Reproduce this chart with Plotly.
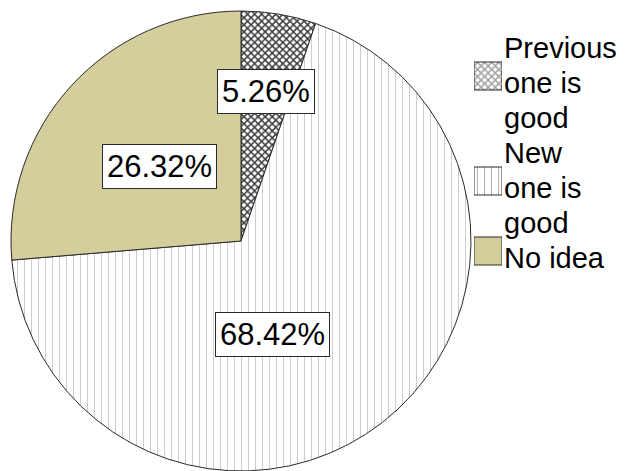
import math
import plotly.graph_objects as go

# ---------------- data ----------------
categories = ["Previous one is good", "New one is good", "No idea"]
legend_lines = [["Previous", "one is", "good"], ["New", "one is", "good"], ["No idea"]]
percentages = [5.26, 68.42, 26.32]
label_texts = ["5.26%", "68.42%", "26.32%"]

# ---------------- style ----------------
W, H = 628, 471
FONT = "Liberation Sans, Arial, sans-serif"
fill_colors = ["#ffffff", "#ffffff", "#d3ce9b"]
pattern_shapes = ["x", "|", ""]
pattern_fg = ["#3c3c3c", "#c4c4c4", "#d3ce9b"]
pattern_size = [5, 7, 6]
pattern_solidity = [0.5, 0.12, 0.3]
edge_color = "#2a2a2a"

pie_domain_x = [0.0159, 0.7516]
pie_domain_y = [0.0, 0.9766]
label_radius_frac = [0.66, 0.43, 0.48]
label_angle_offset = [0.0, 19.5, 0.0]

legend_x_domain = [474 / W, 502 / W]
legend_top_px, line_pitch_px = 23.5, 35.0
swatch_frac = 0.8

# ---------------- geometry derived from layout ----------------
cx = W * (pie_domain_x[0] + pie_domain_x[1]) / 2
cy = H * (1 - (pie_domain_y[0] + pie_domain_y[1]) / 2)
r = min(W * (pie_domain_x[1] - pie_domain_x[0]), H * (pie_domain_y[1] - pie_domain_y[0])) / 2

total = sum(percentages)
pattern = dict(shape=pattern_shapes, fgcolor=pattern_fg, bgcolor=fill_colors,
               size=pattern_size, solidity=pattern_solidity)

fig = go.Figure()
fig.add_trace(go.Pie(
    values=percentages, labels=categories, sort=False, direction="clockwise",
    rotation=0, textinfo="none", showlegend=False, hoverinfo="label+percent",
    marker=dict(colors=fill_colors, line=dict(color=edge_color, width=1), pattern=pattern),
    domain=dict(x=pie_domain_x, y=pie_domain_y),
))

annotations = []
cum = 0.0
for i, v in enumerate(percentages):
    mid = (cum + v / 2) / total * 360 + label_angle_offset[i]
    cum += v
    d = r * label_radius_frac[i]
    px = cx + d * math.sin(math.radians(mid))
    py = cy - d * math.cos(math.radians(mid))
    annotations.append(dict(
        x=px / W, y=1 - py / H, xref="paper", yref="paper", text=label_texts[i],
        showarrow=False, xanchor="center", yanchor="middle",
        font=dict(family=FONT, size=31, color="black"),
        bgcolor="white", bordercolor=edge_color, borderwidth=1, borderpad=4,
    ))

# legend: swatches as bars on a hidden axis measured in text lines
n_lines = sum(len(l) for l in legend_lines)
item_centers = []
line_idx = 0
for lines in legend_lines:
    item_centers.append(line_idx + len(lines) / 2)
    for ln in lines:
        annotations.append(dict(
            x=1, y=line_idx + 0.5, xref="x", yref="y", text=ln, showarrow=False,
            xanchor="left", yanchor="middle", yshift=-7,
            font=dict(family=FONT, size=29, color="black"),
        ))
        line_idx += 1

fig.add_trace(go.Bar(
    x=[1] * len(categories), y=item_centers, orientation="h", base=0,
    width=swatch_frac, showlegend=False, hoverinfo="skip",
    marker=dict(color=fill_colors, line=dict(color=edge_color, width=1), pattern=pattern),
))

legend_bottom_px = legend_top_px + n_lines * line_pitch_px
fig.update_layout(
    width=W, height=H, margin=dict(l=0, r=0, t=0, b=0),
    paper_bgcolor="white", plot_bgcolor="rgba(0,0,0,0)",
    xaxis=dict(domain=legend_x_domain, range=[0, 1], visible=False, fixedrange=True),
    yaxis=dict(domain=[1 - legend_bottom_px / H, 1 - legend_top_px / H],
               range=[n_lines, 0], visible=False, fixedrange=True),
    annotations=annotations, showlegend=False,
)

fig.write_html("out.html")
